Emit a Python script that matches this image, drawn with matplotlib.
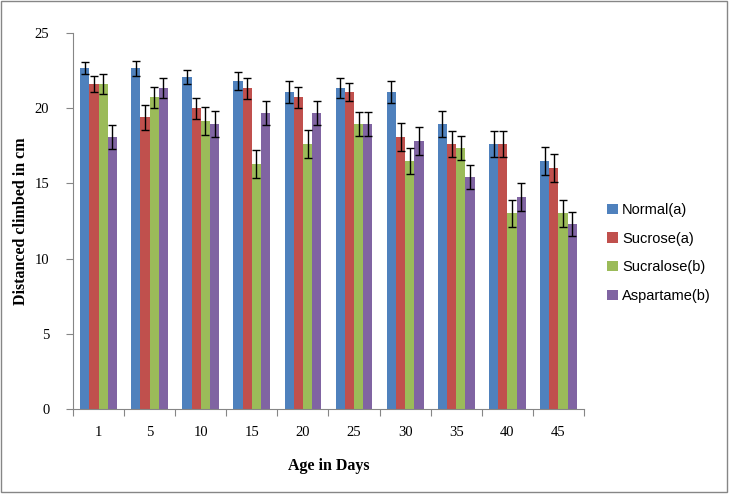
import numpy as np
import matplotlib
matplotlib.use('Agg')
import matplotlib.pyplot as plt
from matplotlib.patches import Rectangle

# Dados
days = ['1', '5', '10', '15', '20', '25', '30', '35', '40', '45']
series = ['Normal(a)', 'Sucrose(a)', 'Sucralose(b)', 'Aspartame(b)']

normal = [22.67, 22.67, 22.07, 21.81, 21.08, 21.34, 21.08, 18.95, 17.62, 16.49]
sucrose = [21.6, 19.41, 20.0, 21.34, 20.74, 21.08, 18.08, 17.62, 17.62, 16.02]
sucralose = [21.6, 20.74, 19.15, 16.29, 17.62, 18.95, 16.49, 17.35, 13.03, 13.03]
aspartame = [18.08, 21.34, 18.95, 19.68, 19.68, 18.95, 17.82, 15.43, 14.1, 12.3]

normal_err = [0.38, 0.5, 0.48, 0.6, 0.7, 0.65, 0.7, 0.88, 0.85, 0.9]
sucrose_err = [0.55, 0.83, 0.7, 0.7, 0.7, 0.6, 0.93, 0.85, 0.85, 0.93]
sucralose_err = [0.65, 0.7, 0.9, 0.9, 0.95, 0.8, 0.85, 0.8, 0.9, 0.9]
aspartame_err = [0.8, 0.65, 0.88, 0.8, 0.8, 0.8, 0.9, 0.8, 0.93, 0.8]

colors = ['#4F81BD', '#C0504D', '#9BBB59', '#8064A2']

fig = plt.figure(figsize=(7.29, 4.98), dpi=100)
ax = fig.add_axes([0.1001, 0.1787, 0.701, 0.755])

values = [normal, sucrose, sucralose, aspartame]
errors = [normal_err, sucrose_err, sucralose_err, aspartame_err]

x = np.arange(len(days))
bar_width = 0.18
for i, (vals, errs) in enumerate(zip(values, errors)):
    pos = x + (i - 1.5) * bar_width
    ax.bar(pos, vals, bar_width, color=colors[i], label=series[i], zorder=2)
    ax.errorbar(pos, vals, yerr=errs, fmt='none', ecolor='black',
                elinewidth=1, capsize=3, capthick=1, zorder=3)

ax.set_xlim(-0.5, len(days) - 0.5)
ax.set_ylim(0, 25)
ax.set_yticks([0, 5, 10, 15, 20, 25])

# Ticks do eixo X entre as categorias
ax.set_xticks(np.arange(-0.5, len(days)), minor=False)
ax.set_xticklabels([])
ax.set_xticks(x, minor=True)
ax.set_xticklabels(days, minor=True, fontfamily='Liberation Serif', fontsize=10.5)
ax.tick_params(axis='x', which='major', length=5, color='#868686', direction='out')
ax.tick_params(axis='x', which='minor', length=0, pad=12)
ax.tick_params(axis='y', length=5, color='#868686', direction='out', pad=12)
for lbl in ax.get_yticklabels():
    lbl.set_fontfamily('Liberation Serif')
    lbl.set_fontsize(10.5)

for side in ['top', 'right']:
    ax.spines[side].set_visible(False)
for side in ['left', 'bottom']:
    ax.spines[side].set_color('#868686')

ax.set_xlabel('Age in Days', fontfamily='Liberation Serif', fontweight='bold',
              fontsize=11.5, labelpad=14)
ax.set_ylabel('Distanced climbed in cm', fontfamily='Liberation Serif',
              fontweight='bold', fontsize=11.5, labelpad=4)

ax.legend(loc='center left', bbox_to_anchor=(1.02, 0.415), frameon=False,
          prop={'family': 'Liberation Sans', 'size': 10.5},
          handlelength=0.7, handleheight=0.7, handletextpad=0.3,
          labelspacing=1.0)

# Moldura em volta do gráfico
fig.patches.append(Rectangle((0.001, 0.012), 0.996, 0.986, transform=fig.transFigure,
                             fill=False, edgecolor='#868686', linewidth=1))

plt.savefig('out.png', dpi=100)
